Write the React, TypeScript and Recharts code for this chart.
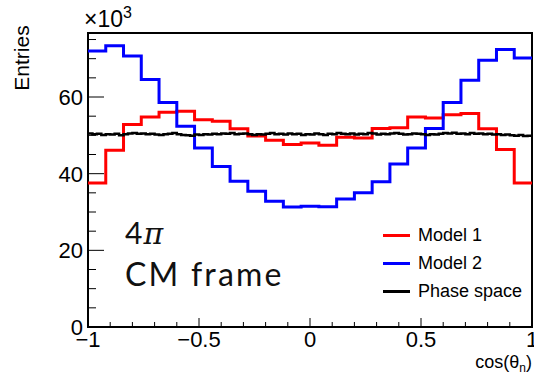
import React from 'react';
import { ComposedChart, Line, XAxis, YAxis, ReferenceArea } from 'recharts';

// 25 bins from -1 to 1, values in units of 10^3 entries
const model1 = [
  37.6, 46.1, 52.8, 54.8, 56.0, 56.3, 54.1, 53.7, 51.7, 49.8, 48.7, 47.6, 48.0,
  47.4, 49.5, 49.3, 51.8, 52.0, 54.8, 54.5, 55.4, 55.7, 51.7, 46.3, 37.6,
];
const model2 = [
  72.0, 73.4, 70.7, 64.6, 58.6, 52.4, 46.7, 41.9, 38.0, 35.4, 32.8, 31.3, 31.5,
  31.4, 33.4, 35.0, 37.9, 42.5, 46.7, 51.8, 58.6, 64.4, 69.6, 72.4, 70.2,
];
// 100 bins
const phaseSpace = [
  50.5, 50.3, 50.4, 50.1, 50.3, 50.2, 50.4, 50.0, 50.3, 50.5,
  50.6, 50.4, 50.5, 50.3, 50.4, 50.2, 50.1, 50.3, 50.4, 50.6,
  50.3, 50.1, 50.0, 49.9, 50.2, 50.1, 50.3, 50.2, 50.4, 50.3,
  50.5, 50.4, 50.6, 50.3, 50.4, 50.5, 50.3, 50.1, 50.3, 50.2,
  50.4, 50.6, 50.3, 50.4, 50.2, 50.5, 50.3, 50.4, 50.1, 50.3,
  50.2, 50.5, 50.3, 50.1, 50.4, 50.3, 50.6, 50.4, 50.3, 50.5,
  50.2, 50.4, 50.3, 50.6, 50.5, 50.2, 50.4, 50.3, 50.5, 50.6,
  50.4, 50.2, 50.3, 50.5, 50.4, 50.3, 50.1, 50.3, 50.2, 50.4,
  50.6, 50.5, 50.7, 50.4, 50.5, 50.3, 50.6, 50.4, 50.5, 50.3,
  50.4, 50.2, 50.3, 50.1, 50.2, 50.0, 49.9, 50.1, 49.8, 49.9,
];

const seriesNames = ['Model 1', 'Model 2', 'Phase space'];
const seriesColors = ['#ff0000', '#0000ff', '#000000'];

const xTicks = [
  -1, -0.9, -0.8, -0.7, -0.6, -0.5, -0.4, -0.3, -0.2, -0.1, 0,
  0.1, 0.2, 0.3, 0.4, 0.5, 0.6, 0.7, 0.8, 0.9, 1,
];
const xMajor = [-1, -0.5, 0, 0.5, 1];
const yTicks = [0, 5, 10, 15, 20, 25, 30, 35, 40, 45, 50, 55, 60, 65, 70, 75];
const yMajor = [0, 20, 40, 60];
const yMax = 76.7;

const FONT = '"Liberation Sans", Arial, sans-serif';
const GAP = 4;

// histogram contents -> points at bin low edges, plus closing point at x = 1
function toSteps(values: number[]) {
  const w = 2 / values.length;
  const pts = values.map((v, i) => ({ x: Math.round((-1 + i * w) * 1e6) / 1e6, y: v }));
  pts.push({ x: 1, y: values[values.length - 1] });
  return pts;
}

const fmt = (v: number) => (v < 0 ? '\u2212' + Math.abs(v) : String(v));

const XTick = (props: any) => {
  const { x, y, payload } = props;
  const ay = y - GAP;
  const major = xMajor.some((m) => Math.abs(m - payload.value) < 1e-6);
  return (
    <g>
      <line x1={x} x2={x} y1={ay} y2={ay - (major ? 9 : 5)} stroke="#000" strokeWidth={1} />
      {major && (
        <text x={x} y={y} dy="0.72em" textAnchor="middle" fontSize={22} fontFamily={FONT} fill="#000">
          {fmt(payload.value)}
        </text>
      )}
    </g>
  );
};

const YTick = (props: any) => {
  const { x, y, payload } = props;
  const ax = x + GAP;
  const major = yMajor.includes(payload.value);
  return (
    <g>
      <line x1={ax} x2={ax + (major ? 16 : 8)} y1={y} y2={y} stroke="#000" strokeWidth={1} />
      {major && (
        <text x={x - 1} y={y} dy="0.36em" textAnchor="end" fontSize={22} fontFamily={FONT} fill="#000">
          {payload.value}
        </text>
      )}
    </g>
  );
};

export default function App() {
  return (
    <div style={{ position: 'absolute', left: 0, top: 0, width: 534, height: 373, background: '#fff', overflow: 'hidden' }}>
      <ComposedChart width={534} height={373} margin={{ top: 33, right: 2, left: 28, bottom: 16 }}>
        <XAxis
          dataKey="x"
          type="number"
          domain={[-1, 1]}
          ticks={xTicks}
          interval={0}
          tickLine={false}
          axisLine={false}
          tickSize={0}
          tickMargin={GAP}
          height={30}
          tick={<XTick />}
          allowDataOverflow
        />
        <YAxis
          type="number"
          domain={[0, yMax]}
          ticks={yTicks}
          interval={0}
          tickLine={false}
          axisLine={false}
          tickSize={0}
          tickMargin={GAP}
          width={60}
          tick={<YTick />}
          allowDataOverflow
        />
        <Line
          data={toSteps(model1)}
          dataKey="y"
          name={seriesNames[0]}
          type="stepAfter"
          stroke={seriesColors[0]}
          strokeWidth={3}
          dot={false}
          isAnimationActive={false}
        />
        <Line
          data={toSteps(model2)}
          dataKey="y"
          name={seriesNames[1]}
          type="stepAfter"
          stroke={seriesColors[1]}
          strokeWidth={3}
          dot={false}
          isAnimationActive={false}
        />
        <Line
          data={toSteps(phaseSpace)}
          dataKey="y"
          name={seriesNames[2]}
          type="stepAfter"
          stroke={seriesColors[2]}
          strokeWidth={2.5}
          dot={false}
          isAnimationActive={false}
        />
        <ReferenceArea x1={-1} x2={1} y1={0} y2={yMax} fill="none" stroke="#000" strokeWidth={2} ifOverflow="visible" />
      </ComposedChart>

      <div style={{ position: 'absolute', left: 383, top: 221, fontFamily: FONT, fontSize: 18, color: '#000' }}>
        {seriesNames.map((n, i) => (
          <div key={n} style={{ display: 'flex', alignItems: 'center', height: 28.3, whiteSpace: 'nowrap' }}>
            <div style={{ width: 27, height: 3, background: seriesColors[i], marginRight: 8 }} />
            <span>{n}</span>
          </div>
        ))}
      </div>

      <div style={{ position: 'absolute', left: 84, top: 6, fontFamily: FONT, fontSize: 23, lineHeight: '26px', color: '#000' }}>
        {'\u00d710'}
        <sup style={{ fontSize: 16, verticalAlign: 0, position: 'relative', top: -9 }}>3</sup>
      </div>
      <div
        style={{
          position: 'absolute',
          left: 22,
          top: 58,
          transform: 'translate(-50%, -50%) rotate(-90deg)',
          fontFamily: FONT,
          fontSize: 21,
          color: '#000',
          whiteSpace: 'nowrap',
        }}
      >
        Entries
      </div>
      <div
        style={{
          position: 'absolute',
          right: 2,
          top: 352,
          fontFamily: FONT,
          fontSize: 18,
          color: '#000',
          whiteSpace: 'nowrap',
        }}
      >
        {'cos(\u03b8'}
        <sub style={{ fontSize: 12, verticalAlign: 0, position: 'relative', top: 4 }}>n</sub>
        {')'}
      </div>
      <div style={{ position: 'absolute', left: 125, top: 214, fontFamily: 'Lato, sans-serif', fontSize: 30, color: '#111', lineHeight: '36px', letterSpacing: 1 }}>
        4<span style={{ fontFamily: '"DejaVu Serif", serif', fontStyle: 'italic' }}>{'\u03c0'}</span>
      </div>
      <div style={{ position: 'absolute', left: 125, top: 254, fontFamily: 'Lato, sans-serif', fontSize: 32, color: '#111', lineHeight: '40px', whiteSpace: 'nowrap', letterSpacing: 2.2 }}>
        CM frame
      </div>
    </div>
  );
}
